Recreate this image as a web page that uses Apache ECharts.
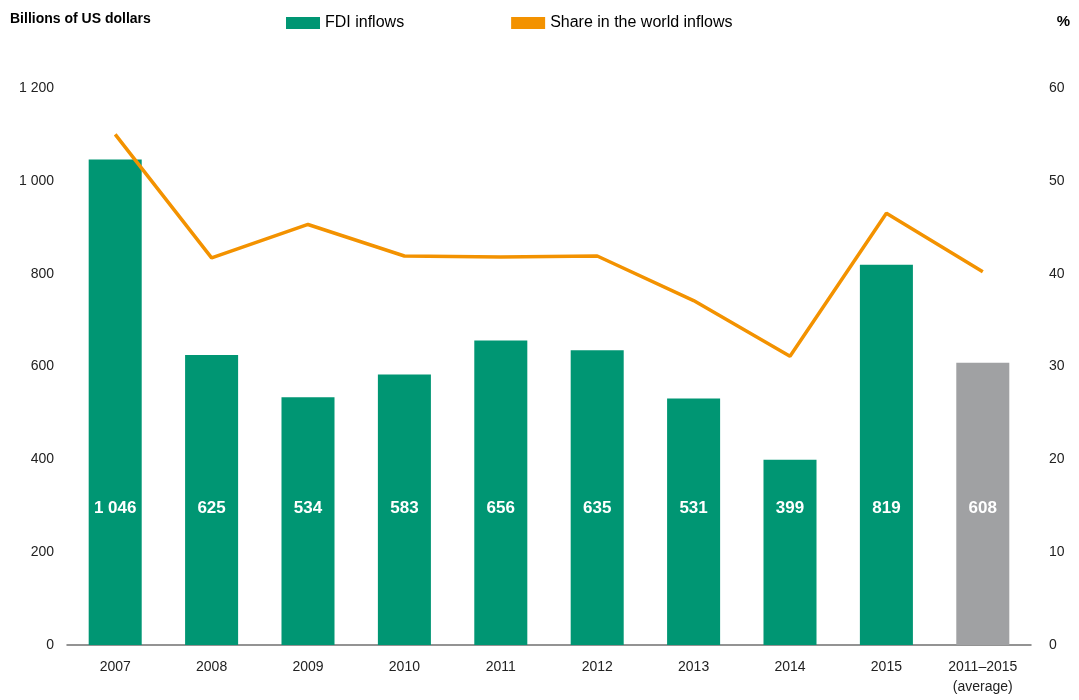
<!DOCTYPE html>
<html>
<head>
<meta charset="utf-8">
<script src="https://cdn.jsdelivr.net/npm/echarts@6/dist/echarts.min.js"></script>
<style>
  html, body { margin: 0; padding: 0; background: #fff; }
  #chart { width: 1079px; height: 700px; }
</style>
</head>
<body>
<div id="chart"></div>
<script>
// FDI inflows (billions of US dollars) and share in world inflows (%)
const categories = ['2007', '2008', '2009', '2010', '2011', '2012', '2013', '2014', '2015', '2011–2015\n(average)'];
const fdiInflows = [1046, 625, 534, 583, 656, 635, 531, 399, 819, 608];
const worldShare = [55.0, 41.7, 45.3, 41.9, 41.8, 41.9, 37.1, 31.1, 46.5, 40.2];
const leftTicks = [0, 200, 400, 600, 800, 1000, 1200];
const rightTicks = [0, 10, 20, 30, 40, 50, 60];

const FONT = '"Liberation Sans Narrow", "Arial Narrow", "Liberation Sans", Arial, sans-serif';
const GREEN = '#009673';
const GREY = '#a0a1a3';
const ORANGE = '#f39200';

const fmt = v => String(v).replace(/\B(?=(\d{3})+(?!\d))/g, ' ');

const chart = echarts.init(document.getElementById('chart'), null, { renderer: 'canvas' });
chart.setOption({
  animation: false,
  textStyle: { fontFamily: FONT },
  title: [
    { text: 'Billions of US dollars', left: 5, top: 7,
      textStyle: { fontFamily: FONT, fontSize: 14, fontWeight: 'bold', color: '#000' } },
    { text: '%', right: 4, top: 9,
      textStyle: { fontFamily: FONT, fontSize: 15, fontWeight: 'bold', color: '#000' } }
  ],
  legend: {
    top: 10, left: 281, itemGap: 107, itemWidth: 34, itemHeight: 12,
    textStyle: { fontFamily: FONT, fontSize: 16, color: '#000' },
    data: [
      { name: 'FDI inflows', icon: 'rect', itemStyle: { color: GREEN } },
      { name: 'Share in the world inflows', icon: 'rect', itemStyle: { color: ORANGE } }
    ]
  },
  grid: { left: 67, right: 48, top: 88, bottom: 55, containLabel: false },
  xAxis: {
    type: 'category', data: categories,
    axisLine: { lineStyle: { color: '#707070', width: 1.5 } },
    axisTick: { show: false },
    axisLabel: { fontFamily: FONT, fontSize: 14, color: '#222', margin: 12, lineHeight: 20 }
  },
  yAxis: [
    { type: 'value', min: leftTicks[0], max: leftTicks[leftTicks.length - 1], interval: 200,
      splitLine: { show: false }, axisLine: { show: false }, axisTick: { show: false },
      axisLabel: { fontFamily: FONT, fontSize: 14, color: '#222', margin: 13, formatter: fmt } },
    { type: 'value', min: rightTicks[0], max: rightTicks[rightTicks.length - 1], interval: 10,
      position: 'right',
      splitLine: { show: false }, axisLine: { show: false }, axisTick: { show: false },
      axisLabel: { fontFamily: FONT, fontSize: 14, color: '#222', margin: 18 } }
  ],
  series: [
    {
      name: 'FDI inflows', type: 'bar', yAxisIndex: 0, barWidth: '55%',
      data: fdiInflows.map((v, i) => ({
        value: v,
        itemStyle: { color: i === fdiInflows.length - 1 ? GREY : GREEN }
      })),
      label: {
        show: true, position: 'insideBottom', distance: 128,
        fontFamily: FONT, fontSize: 17, fontWeight: 'bold', color: '#fff',
        formatter: p => fmt(p.value)
      }
    },
    {
      name: 'Share in the world inflows', type: 'line', yAxisIndex: 1,
      data: worldShare, symbol: 'none', z: 5,
      lineStyle: { color: ORANGE, width: 3.5 },
      itemStyle: { color: ORANGE }
    }
  ]
});
</script>
</body>
</html>
